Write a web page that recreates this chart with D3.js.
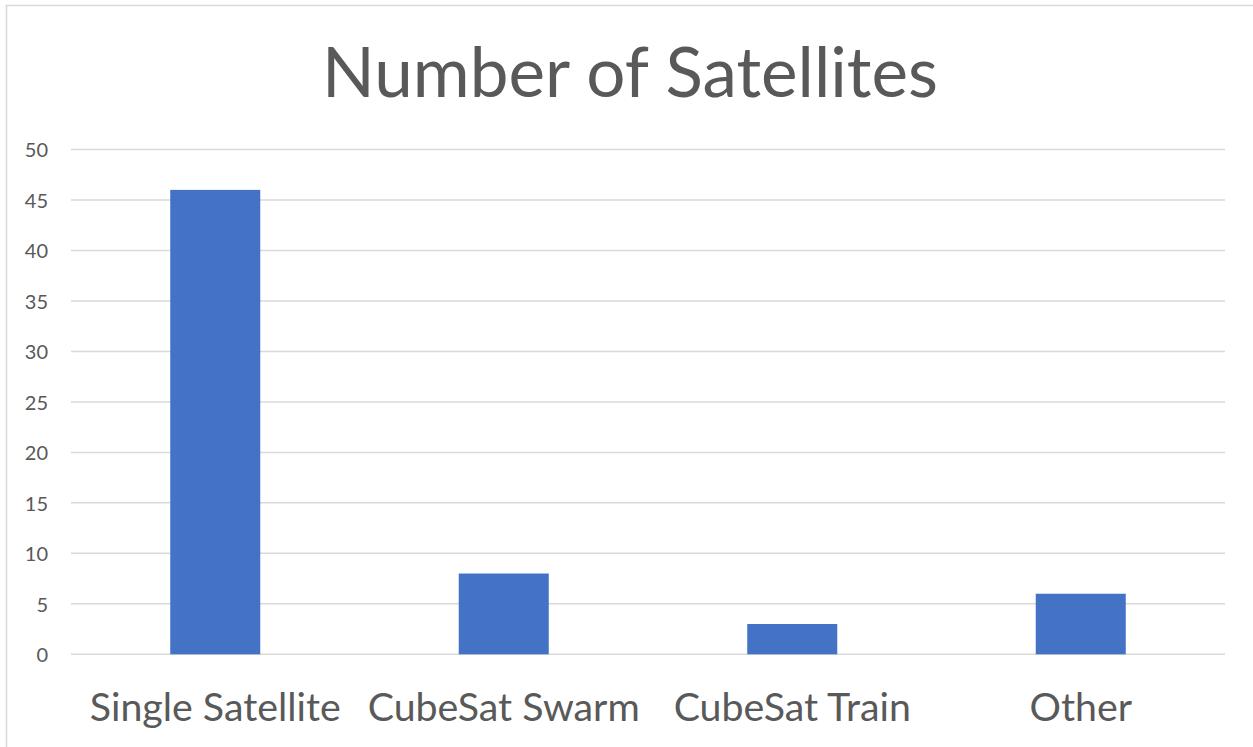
<!DOCTYPE html>
<html>
<head>
<meta charset="utf-8">
<script src="https://cdn.jsdelivr.net/npm/d3@7/dist/d3.min.js"></script>
<style>
  html, body { margin: 0; padding: 0; background: #ffffff; }
  svg { display: block; }
  text { font-family: Lato, "Open Sans", "Liberation Sans", sans-serif; fill: #595959; }
</style>
</head>
<body>
<svg id="chart" width="1253" height="747"></svg>
<script>
// Chart data
const categories = ["Single Satellite", "CubeSat Swarm", "CubeSat Train", "Other"];
const satelliteCounts = [46, 8, 3, 6];
const yTicks = [0, 5, 10, 15, 20, 25, 30, 35, 40, 45, 50];
const chartTitle = "Number of Satellites";

const W = 1253, H = 747;
const plot = { left: 71, right: 1225, top: 149.5, bottom: 654.3 };

const svg = d3.select("#chart");

// Outer chart frame
svg.append("rect")
  .attr("x", 6.5).attr("y", 5.5)
  .attr("width", W + 20).attr("height", H + 20)
  .attr("fill", "#ffffff")
  .attr("stroke", "#d9d9d9")
  .attr("stroke-width", 1.5);

const x = d3.scaleBand()
  .domain(categories)
  .range([plot.left, plot.right])
  .padding(0);

const y = d3.scaleLinear()
  .domain([0, 50])
  .range([plot.bottom, plot.top]);

const barWidth = x.bandwidth() * 0.312;

// Horizontal gridlines
svg.append("g")
  .selectAll("line")
  .data(yTicks)
  .join("line")
  .attr("x1", plot.left)
  .attr("x2", plot.right)
  .attr("y1", d => y(d))
  .attr("y2", d => y(d))
  .attr("stroke", "#d9d9d9")
  .attr("stroke-width", 1.5);

// Y axis labels (no axis line)
const yAxis = d3.axisLeft(y).tickValues(yTicks).tickSize(0).tickPadding(0);
const yG = svg.append("g")
  .attr("transform", `translate(48,0)`)
  .call(yAxis);
yG.select(".domain").remove();
yG.selectAll("text")
  .attr("font-size", 20)
  .attr("fill", "#595959")
  .attr("dy", "0.36em")
  .style("font-family", "Lato, 'Open Sans', sans-serif");

// Bars
svg.append("g")
  .selectAll("rect")
  .data(categories)
  .join("rect")
  .attr("x", d => x(d) + (x.bandwidth() - barWidth) / 2)
  .attr("y", (d, i) => y(satelliteCounts[i]))
  .attr("width", barWidth)
  .attr("height", (d, i) => y(0) - y(satelliteCounts[i]))
  .attr("fill", "#4472c4");

// Fit a text element to a target width by adjusting font size
function fitWidth(sel, target, startSize) {
  sel.attr("font-size", startSize);
  const w = sel.node().getComputedTextLength();
  sel.attr("font-size", startSize * target / w);
}

// Category labels
const xG = svg.append("g");
const catLabels = xG.selectAll("text")
  .data(categories)
  .join("text")
  .attr("x", d => x(d) + x.bandwidth() / 2)
  .attr("y", 721)
  .attr("text-anchor", "middle")
  .text(d => d);
// Shared font size based on the first label width
const probe = catLabels.filter((d, i) => i === 0);
fitWidth(probe, 251, 36);
const catSize = +probe.attr("font-size");
catLabels.attr("font-size", catSize);

// Title
const title = svg.append("text")
  .attr("x", 630)
  .attr("y", 97)
  .attr("text-anchor", "middle")
  .text(chartTitle);
fitWidth(title, 616, 70);
</script>
</body>
</html>
